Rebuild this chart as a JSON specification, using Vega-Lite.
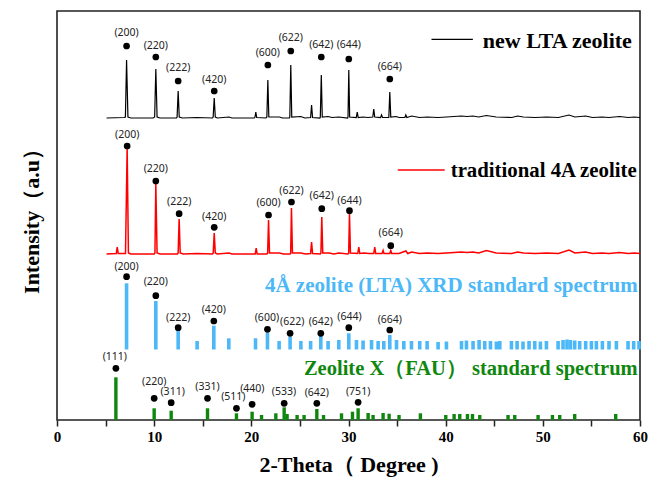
{
  "$schema": "https://vega.github.io/schema/vega-lite/v6.json",
  "width": 583,
  "height": 409,
  "autosize": "none",
  "padding": {"left": 57, "top": 11, "right": 9, "bottom": 64},
  "background": "white",
  "config": {"view": {"stroke": "#222222", "strokeWidth": 1.6}},
  "datasets": {
    "newlta": [
      {"t":5.1,"i":302},{"t":6.9,"i":302.5},{"t":7.04,"i":303},{"t":7.16,"i":360},{"t":7.3,"i":303},{"t":7.6,"i":302},
      {"t":9.9,"i":302},{"t":10.05,"i":303},{"t":10.17,"i":351},{"t":10.3,"i":303},{"t":10.6,"i":302},
      {"t":12.3,"i":302},{"t":12.36,"i":303},{"t":12.47,"i":329},{"t":12.58,"i":303},{"t":12.9,"i":302},
      {"t":14.4,"i":302.5},{"t":16.0,"i":302},{"t":16.07,"i":303},{"t":16.18,"i":322},{"t":16.29,"i":303},{"t":16.5,"i":302},
      {"t":17.7,"i":303},{"t":18.0,"i":302},{"t":20.3,"i":302},{"t":20.38,"i":303},{"t":20.46,"i":308},{"t":20.55,"i":302.5},
      {"t":21.5,"i":302},{"t":21.6,"i":303},{"t":21.7,"i":340},{"t":21.8,"i":303},{"t":22.9,"i":303},{"t":23.2,"i":302},
      {"t":23.9,"i":302},{"t":23.96,"i":303},{"t":24.06,"i":355},{"t":24.16,"i":303},{"t":25.1,"i":303.5},{"t":25.5,"i":302},
      {"t":26.1,"i":302.5},{"t":26.2,"i":315},{"t":26.3,"i":302.5},{"t":27.05,"i":302},{"t":27.1,"i":303},{"t":27.2,"i":345},{"t":27.3,"i":303},
      {"t":27.9,"i":303.5},{"t":28.3,"i":302.5},{"t":29.0,"i":303},{"t":29.9,"i":302},{"t":29.95,"i":303},{"t":30.03,"i":350},{"t":30.12,"i":303},
      {"t":30.8,"i":302.5},{"t":30.9,"i":308},{"t":31.0,"i":302.5},{"t":31.5,"i":303},{"t":32.0,"i":302.5},{"t":32.5,"i":303},{"t":32.6,"i":311},{"t":32.7,"i":303},
      {"t":33.3,"i":302.5},{"t":33.4,"i":305},{"t":33.5,"i":302.5},{"t":34.15,"i":302.5},{"t":34.25,"i":328},{"t":34.35,"i":303},
      {"t":34.9,"i":303.5},{"t":35.2,"i":302.5},{"t":35.8,"i":302.5},{"t":35.9,"i":305},{"t":36.0,"i":302.5},{"t":36.5,"i":304},{"t":37.3,"i":302.5},
      {"t":38.1,"i":303},{"t":39.2,"i":302.5},{"t":40.1,"i":303},{"t":41.6,"i":304},{"t":42.2,"i":303.5},{"t":42.8,"i":304},{"t":43.4,"i":303},
      {"t":44.2,"i":304.5},{"t":45.2,"i":303},{"t":46.8,"i":302.5},{"t":47.4,"i":304},{"t":48.0,"i":303},{"t":49.2,"i":302.5},{"t":50.4,"i":303},
      {"t":51.6,"i":302.5},{"t":52.7,"i":305},{"t":53.3,"i":303},{"t":54.4,"i":304},{"t":55.1,"i":302.5},{"t":56.1,"i":303},{"t":56.8,"i":302.5},
      {"t":57.9,"i":303.5},{"t":58.8,"i":302.5},{"t":59.4,"i":303},{"t":60,"i":302.5}
    ],
    "trad": [
      {"t":5.1,"i":166},{"t":6.1,"i":166.5},{"t":6.2,"i":173},{"t":6.3,"i":166.5},{"t":7.05,"i":166.5},{"t":7.22,"i":272},{"t":7.35,"i":167},{"t":7.6,"i":166},
      {"t":10.0,"i":166},{"t":10.08,"i":167},{"t":10.17,"i":236},{"t":10.3,"i":167},{"t":10.6,"i":166},
      {"t":12.4,"i":166},{"t":12.47,"i":167},{"t":12.57,"i":201},{"t":12.68,"i":167},{"t":13.0,"i":166},
      {"t":14.4,"i":166.5},{"t":16.0,"i":166},{"t":16.08,"i":167},{"t":16.18,"i":187},{"t":16.29,"i":167},{"t":16.5,"i":166},
      {"t":17.7,"i":167},{"t":18.0,"i":166},{"t":20.4,"i":166},{"t":20.5,"i":172},{"t":20.6,"i":166},
      {"t":21.6,"i":166},{"t":21.68,"i":167},{"t":21.77,"i":200},{"t":21.87,"i":167},{"t":22.9,"i":167},{"t":23.3,"i":166},
      {"t":24.0,"i":166},{"t":24.05,"i":167},{"t":24.13,"i":212},{"t":24.23,"i":167},{"t":25.1,"i":167},{"t":25.6,"i":166},
      {"t":26.1,"i":166.5},{"t":26.2,"i":178},{"t":26.3,"i":166.5},{"t":27.1,"i":166},{"t":27.16,"i":167},{"t":27.25,"i":203},{"t":27.35,"i":167},
      {"t":28.0,"i":167},{"t":28.5,"i":166},{"t":29.0,"i":167},{"t":29.95,"i":166},{"t":30.02,"i":167},{"t":30.1,"i":206},{"t":30.2,"i":167},
      {"t":30.95,"i":166.5},{"t":31.06,"i":173},{"t":31.16,"i":166.5},{"t":31.6,"i":167},{"t":32.1,"i":166.5},{"t":32.6,"i":166.5},{"t":32.7,"i":173},{"t":32.8,"i":166.5},
      {"t":33.45,"i":166.5},{"t":33.56,"i":169.5},{"t":33.65,"i":166.5},{"t":34.25,"i":166.5},{"t":34.35,"i":169.5},{"t":34.45,"i":166.5},
      {"t":35.2,"i":166.5},{"t":35.9,"i":169},{"t":36.1,"i":166.5},{"t":36.5,"i":168},{"t":37.3,"i":166.5},{"t":38.1,"i":167},{"t":39.2,"i":166.5},
      {"t":40.1,"i":167},{"t":41.6,"i":168},{"t":42.2,"i":167.5},{"t":42.8,"i":168},{"t":43.4,"i":167},{"t":44.2,"i":169.5},{"t":45.2,"i":167},
      {"t":46.8,"i":166.5},{"t":47.4,"i":168},{"t":48.0,"i":167},{"t":49.2,"i":166.5},{"t":50.4,"i":167},{"t":51.6,"i":166.5},{"t":52.7,"i":170},
      {"t":53.3,"i":167},{"t":54.4,"i":168},{"t":55.1,"i":166.5},{"t":56.1,"i":167},{"t":56.8,"i":166.5},{"t":57.9,"i":167.5},{"t":58.8,"i":166.5},
      {"t":59.4,"i":167},{"t":60,"i":166.5}
    ],
    "ltastd": [
      {"t":7.16,"i":136.7},{"t":10.17,"i":119},{"t":12.47,"i":89},{"t":14.42,"i":79},{"t":16.14,"i":94.3},{"t":17.68,"i":81.7},
      {"t":20.43,"i":81.7},{"t":21.66,"i":87.3},{"t":22.86,"i":79},{"t":23.99,"i":83.3},{"t":25.1,"i":79},{"t":26.1,"i":79},
      {"t":27.15,"i":84},{"t":27.9,"i":79},{"t":29.0,"i":80},{"t":30.03,"i":86.7},{"t":30.82,"i":80},{"t":31.5,"i":79.5},
      {"t":32.37,"i":80},{"t":33.05,"i":79},{"t":33.63,"i":79},{"t":34.25,"i":85},{"t":34.94,"i":80},{"t":35.69,"i":79},
      {"t":36.48,"i":79},{"t":37.33,"i":79},{"t":38.09,"i":79},{"t":39.22,"i":78},{"t":40.08,"i":78.5},{"t":41.63,"i":79},
      {"t":42.14,"i":79.5},{"t":42.82,"i":79},{"t":43.44,"i":80},{"t":44.02,"i":79},{"t":44.61,"i":79},{"t":45.22,"i":78.5},
      {"t":45.57,"i":79},{"t":46.77,"i":79},{"t":47.35,"i":79},{"t":47.96,"i":78.5},{"t":48.58,"i":79},{"t":49.17,"i":79},
      {"t":49.75,"i":78.5},{"t":50.37,"i":79},{"t":51.57,"i":79},{"t":52.08,"i":80},{"t":52.49,"i":80.5},{"t":52.84,"i":80},
      {"t":53.28,"i":79.5},{"t":53.79,"i":79},{"t":54.41,"i":79},{"t":55.0,"i":79},{"t":55.51,"i":79},{"t":56.13,"i":79},
      {"t":56.81,"i":79},{"t":57.57,"i":79},{"t":58.77,"i":79},{"t":59.35,"i":79},{"t":59.9,"i":79}
    ],
    "faustd": [
      {"t":6.06,"i":42.7},{"t":10.0,"i":11.7},{"t":11.75,"i":9.3},{"t":15.49,"i":11.7},{"t":18.47,"i":6.7},{"t":20.08,"i":8.3},
      {"t":21.05,"i":5},{"t":22.52,"i":6.7},{"t":23.38,"i":12.7},{"t":23.68,"i":6},{"t":24.71,"i":5},{"t":25.43,"i":5},
      {"t":26.74,"i":11},{"t":27.43,"i":5},{"t":29.28,"i":6.7},{"t":30.41,"i":8.3},{"t":30.99,"i":11.7},{"t":32.02,"i":7},
      {"t":32.53,"i":5},{"t":33.56,"i":7},{"t":34.18,"i":6.3},{"t":35.2,"i":5},{"t":37.4,"i":6.7},{"t":40.01,"i":5},
      {"t":40.87,"i":6},{"t":41.45,"i":6},{"t":42.24,"i":6},{"t":42.76,"i":6},{"t":43.51,"i":5},{"t":46.42,"i":5},
      {"t":47.11,"i":5},{"t":49.51,"i":5},{"t":50.99,"i":5},{"t":51.74,"i":5},{"t":53.28,"i":6},{"t":57.5,"i":6}
    ],
    "dots": [
      {"t":7.16,"i":374},{"t":10.17,"i":363},{"t":12.47,"i":339},{"t":16.18,"i":329},{"t":21.7,"i":355},{"t":24.06,"i":369},{"t":27.2,"i":363},{"t":30.03,"i":361},{"t":34.25,"i":341},
      {"t":7.22,"i":274},{"t":10.17,"i":239},{"t":12.57,"i":206.3},{"t":16.18,"i":192.7},{"t":21.77,"i":205},{"t":24.13,"i":218},{"t":27.25,"i":211.3},{"t":30.1,"i":209.3},{"t":34.35,"i":174.3},
      {"t":7.16,"i":143.3},{"t":10.17,"i":124.3},{"t":12.47,"i":92.3},{"t":16.14,"i":99},{"t":21.66,"i":90.7},{"t":23.99,"i":86.7},{"t":27.15,"i":86.7},{"t":30.03,"i":92.3},{"t":34.25,"i":90},
      {"t":6.06,"i":51.7},{"t":10.0,"i":21.7},{"t":11.75,"i":17.3},{"t":15.49,"i":21.7},{"t":18.47,"i":11.7},{"t":20.08,"i":15.7},{"t":23.38,"i":16.7},{"t":26.74,"i":16.7},{"t":30.99,"i":17.7}
    ],
    "labels": [
      {"t":7.16,"i":387,"lab":"(200)"},{"t":10.17,"i":374,"lab":"(220)"},{"t":12.47,"i":352,"lab":"(222)"},{"t":16.18,"i":340,"lab":"(420)"},{"t":21.7,"i":367,"lab":"(600)"},{"t":24.06,"i":382,"lab":"(622)"},{"t":27.2,"i":375,"lab":"(642)"},{"t":30.03,"i":375,"lab":"(644)"},{"t":34.25,"i":353,"lab":"(664)"},
      {"t":7.22,"i":285,"lab":"(200)"},{"t":10.17,"i":251,"lab":"(220)"},{"t":12.57,"i":218.3,"lab":"(222)"},{"t":16.18,"i":203,"lab":"(420)"},{"t":21.77,"i":217.3,"lab":"(600)"},{"t":24.13,"i":229.3,"lab":"(622)"},{"t":27.25,"i":224,"lab":"(642)"},{"t":30.1,"i":219,"lab":"(644)"},{"t":34.35,"i":187.3,"lab":"(664)"},
      {"t":7.16,"i":153.3,"lab":"(200)"},{"t":10.17,"i":138.3,"lab":"(220)"},{"t":12.47,"i":101.7,"lab":"(222)"},{"t":16.14,"i":110,"lab":"(420)"},{"t":21.6,"i":101.7,"lab":"(600)"},{"t":24.2,"i":97.7,"lab":"(622)"},{"t":27.15,"i":98.3,"lab":"(642)"},{"t":30.1,"i":102.7,"lab":"(644)"},{"t":34.25,"i":100,"lab":"(664)"},
      {"t":5.95,"i":62.7,"lab":"(111)"},{"t":10.0,"i":38.5,"lab":"(220)"},{"t":11.9,"i":28.3,"lab":"(311)"},{"t":15.49,"i":32.7,"lab":"(331)"},{"t":18.15,"i":22.7,"lab":"(511)"},{"t":20.1,"i":31.5,"lab":"(440)"},{"t":23.35,"i":28.3,"lab":"(533)"},{"t":26.74,"i":27.3,"lab":"(642)"},{"t":30.99,"i":27.7,"lab":"(751)"}
    ]
  },
  "encoding": {
    "x": {
      "field": "t", "type": "quantitative",
      "scale": {"domain": [0, 60], "nice": false, "zero": false},
      "axis": {
        "values": [0,5,10,15,20,25,30,35,40,45,50,55,60],
        "labelExpr": "datum.value % 10 === 0 ? datum.label : ''",
        "domain": false, "grid": false,
        "tickSize": 6, "tickColor": "#222222", "tickWidth": 1.5,
        "labelFont": "Liberation Serif", "labelFontWeight": "bold", "labelFontSize": 15, "labelColor": "black",
        "labelPadding": 3, "labelFlush": false, "labelOverlap": false, "labelBound": false,
        "title": "2-Theta（ Degree )",
        "titleFont": "Liberation Serif", "titleFontSize": 22, "titleFontWeight": "bold", "titleColor": "black", "titlePadding": 10
      }
    },
    "y": {
      "field": "i", "type": "quantitative",
      "scale": {"domain": [0, 409], "nice": false, "zero": false},
      "axis": {
        "labels": false, "ticks": false, "domain": false, "grid": false,
        "title": "Intensity（a.u）",
        "titleFont": "Liberation Serif", "titleFontSize": 22, "titleFontWeight": "bold", "titleColor": "black", "titlePadding": 14
      }
    }
  },
  "layer": [
    {"data": {"name": "newlta"}, "mark": {"type": "line", "color": "black", "strokeWidth": 1.2}},
    {"data": {"name": "trad"}, "mark": {"type": "line", "color": "#ff0000", "strokeWidth": 1.5}},
    {"data": {"name": "ltastd"}, "mark": {"type": "rule", "color": "#4cb8f8", "strokeWidth": 3.6}, "encoding": {"y2": {"datum": 70.5}}},
    {"data": {"name": "faustd"}, "mark": {"type": "rule", "color": "#0f870f", "strokeWidth": 3.4}, "encoding": {"y2": {"datum": 0}}},
    {"data": {"name": "dots"}, "mark": {"type": "circle", "color": "black", "opacity": 1, "size": 45}},
    {"data": {"name": "labels"}, "mark": {"type": "text", "font": "Noto Sans", "fontSize": 10.5, "color": "#222222", "baseline": "middle", "align": "center"}, "encoding": {"text": {"field": "lab"}}},
    {"data": {"values": [{"t": 38.54, "t2": 42.8, "i": 380.7}]}, "mark": {"type": "rule", "color": "black", "strokeWidth": 1.2}, "encoding": {"x2": {"field": "t2"}}},
    {"data": {"values": [{"t": 35.07, "t2": 39.9, "i": 250}]}, "mark": {"type": "rule", "color": "#ff0000", "strokeWidth": 1.5}, "encoding": {"x2": {"field": "t2"}}},
    {"data": {"values": [{"t": 43.82, "i": 379, "txt": "new LTA zeolite"}]}, "mark": {"type": "text", "font": "Liberation Serif", "fontWeight": "bold", "fontSize": 22, "color": "black", "align": "left", "baseline": "middle"}, "encoding": {"text": {"field": "txt"}}},
    {"data": {"values": [{"t": 59.66, "i": 249, "txt": "traditional 4A zeolite"}]}, "mark": {"type": "text", "font": "Liberation Serif", "fontWeight": "bold", "fontSize": 20.8, "color": "black", "align": "right", "baseline": "middle"}, "encoding": {"text": {"field": "txt"}}},
    {"data": {"values": [{"t": 59.76, "i": 134, "txt": "4Å zeolite (LTA) XRD standard spectrum"}]}, "mark": {"type": "text", "font": "Liberation Serif", "fontWeight": "bold", "fontSize": 21, "color": "#4cb8f8", "align": "right", "baseline": "middle"}, "encoding": {"text": {"field": "txt"}}},
    {"data": {"values": [{"t": 59.76, "i": 51, "txt": "Zeolite X（FAU） standard spectrum"}]}, "mark": {"type": "text", "font": "Liberation Serif", "fontWeight": "bold", "fontSize": 20.5, "color": "#0f870f", "align": "right", "baseline": "middle"}, "encoding": {"text": {"field": "txt"}}}
  ]
}
